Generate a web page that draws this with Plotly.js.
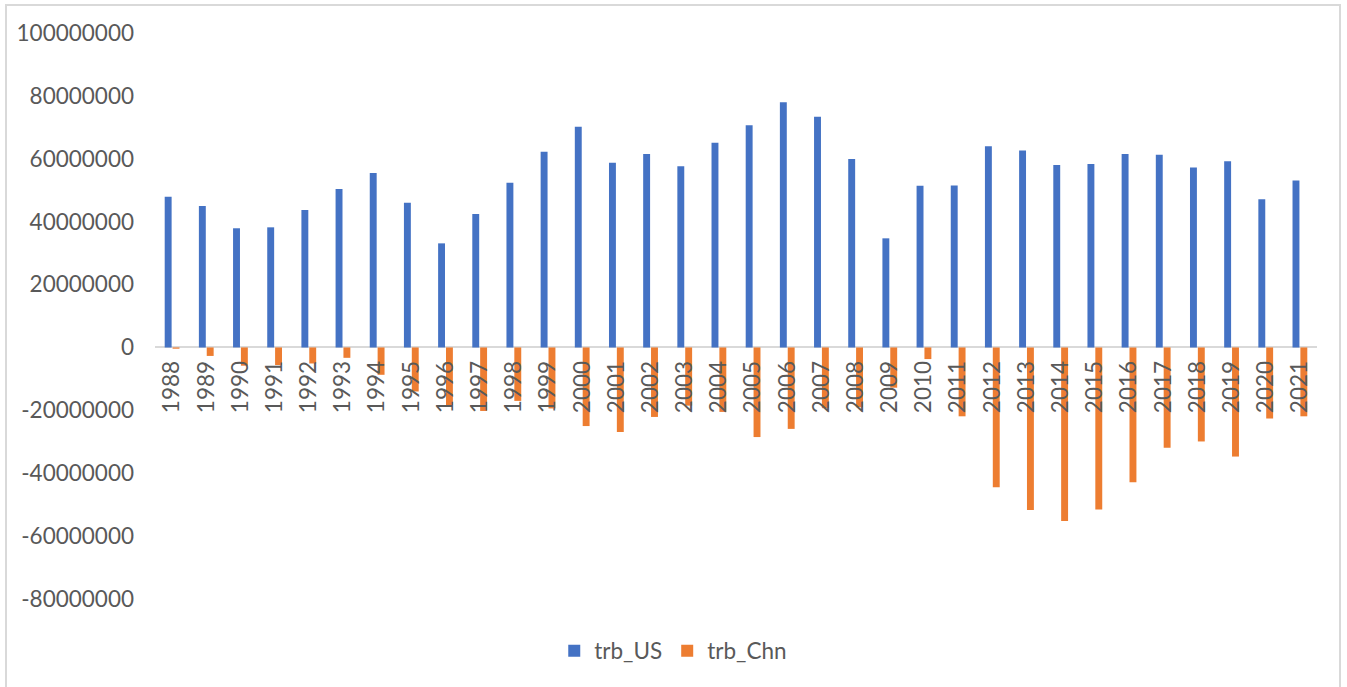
<!DOCTYPE html>
<html>
<head>
<meta charset="utf-8">
<script src="https://cdn.plot.ly/plotly-3.0.1.min.js"></script>
<style>
  html, body { margin: 0; padding: 0; background: #ffffff; overflow: hidden; }
  #chart { width: 1347px; height: 687px; }
  #frame {
    position: absolute; left: 5px; top: 4px; width: 1336px; height: 700px;
    border: 2px solid #d9d9d9; pointer-events: none; box-sizing: border-box;
  }
</style>
</head>
<body>
<div id="chart"></div>
<div id="frame"></div>
<script>
// Years on the category axis
const years = [
  "1988", "1989", "1990", "1991", "1992", "1993", "1994", "1995", "1996", "1997",
  "1998", "1999", "2000", "2001", "2002", "2003", "2004", "2005", "2006", "2007",
  "2008", "2009", "2010", "2011", "2012", "2013", "2014", "2015", "2016", "2017",
  "2018", "2019", "2020", "2021"
];

// Trade balance, United States
const trbUS = [
  47900000, 45000000, 37900000, 38200000, 43700000, 50400000, 55500000, 46000000, 33100000, 42400000,
  52400000, 62200000, 70200000, 58700000, 61500000, 57600000, 65100000, 70700000, 78000000, 73400000,
  59900000, 34700000, 51400000, 51500000, 64000000, 62600000, 58000000, 58300000, 61500000, 61300000,
  57200000, 59200000, 47100000, 53100000
];

// Trade balance, China
const trbChn = [
  -400000, -2700000, -5800000, -5600000, -5100000, -3300000, -8700000, -14000000, -18300000, -20200000,
  -17000000, -19400000, -25000000, -26900000, -22100000, -18500000, -20500000, -28500000, -25900000, -19300000,
  -19000000, -12800000, -3700000, -21900000, -44500000, -51700000, -55200000, -51500000, -42900000, -31900000,
  -29900000, -34700000, -22600000, -21900000
];

// Value axis ticks
const yTickVals = [-80000000, -60000000, -40000000, -20000000, 0, 20000000, 40000000, 60000000, 80000000, 100000000];
const yTickText = yTickVals.map(v => String(v));

const yMin = yTickVals[0];
const yMax = yTickVals[yTickVals.length - 1];

const textFont = { family: "Lato, 'Open Sans', sans-serif", size: 22.5, color: "#595959" };

const traces = [
  {
    type: "bar", name: "trb_US", x: years, y: trbUS,
    marker: { color: "#4472C4" }, hoverinfo: "x+y"
  },
  {
    type: "bar", name: "trb_Chn", x: years, y: trbChn,
    marker: { color: "#ED7D31" }, hoverinfo: "x+y"
  }
];

const layout = {
  width: 1347, height: 687,
  margin: { l: 155, r: 30, t: 33, b: 88, pad: 0 },
  paper_bgcolor: "#ffffff", plot_bgcolor: "#ffffff",
  font: textFont,
  barmode: "group",
  bargap: 0.54,
  bargroupgap: 0.12,
  showlegend: true,
  legend: {
    orientation: "h", x: 0.446, xanchor: "center", y: -0.092, yanchor: "middle",
    font: textFont, itemwidth: 30, traceorder: "normal"
  },
  xaxis: {
    type: "category",
    anchor: "free",
    position: (0 - yMin) / (yMax - yMin),
    showgrid: false, showline: false, zeroline: false,
    ticks: "", tickangle: -90, tickfont: textFont,
    ticklabelstandoff: 8
  },
  yaxis: {
    range: [yMin, yMax],
    tickvals: yTickVals, ticktext: yTickText,
    showgrid: false, showline: false,
    zeroline: true, zerolinecolor: "#d9d9d9", zerolinewidth: 2,
    ticks: "", tickfont: textFont,
    ticklabelstandoff: 20
  }
};

Plotly.newPlot("chart", traces, layout, { displayModeBar: false, staticPlot: true });
</script>
</body>
</html>
